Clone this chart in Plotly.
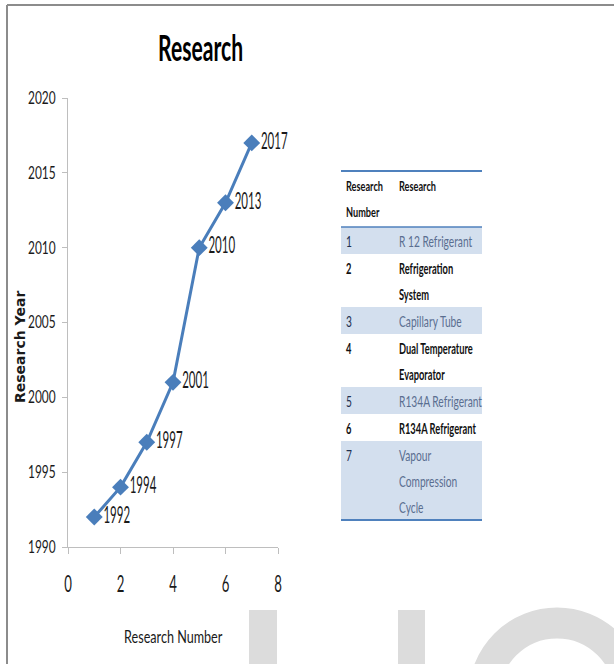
import json
import plotly.graph_objects as go

# ---- data ----
research_number = [1, 2, 3, 4, 5, 6, 7]
research_year = [1992, 1994, 1997, 2001, 2010, 2013, 2017]
year_labels = [str(y) for y in research_year]

table_numbers = ["1", "2", "3", "4", "5", "6", "7"]
table_research = [
    "R 12 Refrigerant",
    "Refrigeration<br>System",
    "Capillary Tube",
    "Dual Temperature<br>Evaporator",
    "R134A Refrigerant",
    "R134A Refrigerant",
    "Vapour<br>Compression<br>Cycle",
]
table_header = ["Research<br>Number", "Research"]

W, H = 614, 664
def px(x):
    return x / W
def py(y):
    return 1 - y / H

FONT = "Lato, Roboto, sans-serif"
BLUE = "#4A7EBB"
INK = "#1a1a1a"

fig = go.Figure()
fig.add_trace(go.Scatter(
    x=research_number, y=research_year, mode="lines+markers+text",
    text=year_labels, textposition="middle right",
    textfont=dict(family=FONT, size=23, color=INK),
    line=dict(color=BLUE, width=3),
    marker=dict(symbol="diamond", size=13, color=BLUE),
    showlegend=False, cliponaxis=False, hoverinfo="skip",
))

fig.update_layout(
    width=W, height=H,
    margin=dict(l=0, r=0, t=0, b=0),
    paper_bgcolor="white", plot_bgcolor="white",
    font=dict(family=FONT, color=INK),
    xaxis=dict(
        domain=[px(68), px(278)], range=[0, 8], tickvals=[0, 2, 4, 6, 8],
        showgrid=False, zeroline=False, showline=True, linecolor="#BEBEBE", linewidth=1,
        ticks="outside", ticklen=6, tickcolor="#BEBEBE", ticklabelstandoff=9,
        tickfont=dict(family=FONT, size=24, color=INK),
        automargin=False, fixedrange=True,
    ),
    yaxis=dict(
        domain=[py(547), py(98)], range=[1990, 2020], tickvals=[1990, 1995, 2000, 2005, 2010, 2015, 2020],
        showgrid=False, zeroline=False, showline=True, linecolor="#BEBEBE", linewidth=1,
        ticks="outside", ticklen=5, tickcolor="#BEBEBE", ticklabelstandoff=3,
        tickfont=dict(family=FONT, size=17, color=INK),
        automargin=False, fixedrange=True,
    ),
)

shapes = []
annotations = []
squeeze = []  # horizontal squeeze factor per annotation (style only)

def add_ann(factor, **kw):
    kw.setdefault("xanchor", "center")
    kw.setdefault("yanchor", "middle")
    annotations.append(kw)
    squeeze.append(factor)

# title and axis titles
add_ann(0.57, x=px(200), y=py(47), xref="paper", yref="paper", text="<b>Research</b>",
        showarrow=False, font=dict(family=FONT, size=37, color="#000000"))
add_ann(0.70, x=px(173), y=py(636), xref="paper", yref="paper", text="Research Number",
        showarrow=False, font=dict(family=FONT, size=18, color=INK))
add_ann(1.0, x=px(20), y=py(347), xref="paper", yref="paper", text="<b>Research Year</b>",
        textangle=-90, showarrow=False,
        font=dict(family="DejaVu Sans, Verdana, sans-serif", size=14, color=INK))

# page frame
shapes.append(dict(type="line", xref="paper", yref="paper", x0=px(7), x1=1, y0=py(5), y1=py(5),
                   line=dict(color="#8C8C8C", width=2)))
shapes.append(dict(type="line", xref="paper", yref="paper", x0=px(7), x1=px(7), y0=py(5), y1=0,
                   line=dict(color="#8C8C8C", width=2)))

# watermark
WM = "#DCDCDC"
shapes.append(dict(type="rect", xref="paper", yref="paper", x0=px(249), x1=px(277), y0=py(610), y1=py(670),
                   fillcolor=WM, line=dict(width=0), layer="below"))
shapes.append(dict(type="rect", xref="paper", yref="paper", x0=px(398), x1=px(425), y0=py(610), y1=py(670),
                   fillcolor=WM, line=dict(width=0), layer="below"))
shapes.append(dict(type="circle", xref="paper", yref="paper", x0=px(484), x1=px(630), y0=py(623), y1=py(769),
                   line=dict(color=WM, width=31), layer="below"))

# table
TL, TR = 341, 482
C1, C2 = 344, 397
LINE_H = 26
ROW_PAD = 1
TBLUE = "#4F81BD"
FILL = "#D3DFEE"
NAVY = "#1F3050"
GRAYBLUE = "#5A6E90"
top = 171
hdr_bottom = 227

def add_cell_text(x, ycenter, text, color, bold, size, factor):
    for k, part in enumerate(text.split("<br>")):
        t = f"<b>{part}</b>" if bold else part
        add_ann(factor, x=px(x), y=py(ycenter + k * LINE_H), xref="paper", yref="paper",
                text=t, showarrow=False, xanchor="left", yanchor="middle", align="left",
                font=dict(family=FONT, size=size, color=color))

shapes.append(dict(type="line", xref="paper", yref="paper", x0=px(TL), x1=px(TR), y0=py(top), y1=py(top),
                   line=dict(color=TBLUE, width=2)))
add_cell_text(C1, top + 15, table_header[0], "#111111", True, 13.5, 0.68)
add_cell_text(C2, top + 15, table_header[1], "#111111", True, 13.5, 0.68)
shapes.append(dict(type="line", xref="paper", yref="paper", x0=px(TL), x1=px(TR), y0=py(hdr_bottom), y1=py(hdr_bottom),
                   line=dict(color=TBLUE, width=1.5)))

y = hdr_bottom
for i, (num, res) in enumerate(zip(table_numbers, table_research)):
    n_lines = res.count("<br>") + 1
    h = n_lines * LINE_H + ROW_PAD
    if i % 2 == 0:
        shapes.append(dict(type="rect", xref="paper", yref="paper", x0=px(TL), x1=px(TR), y0=py(y), y1=py(y + h),
                           fillcolor=FILL, line=dict(width=0), layer="below"))
        add_cell_text(C1, y + 14, num, NAVY, False, 15, 0.68)
        add_cell_text(C2, y + 14, res, GRAYBLUE, False, 15, 0.68)
    else:
        add_cell_text(C1, y + 14, num, "#111111", True, 15, 0.62)
        add_cell_text(C2, y + 14, res, "#111111", True, 15, 0.62)
    y += h
shapes.append(dict(type="line", xref="paper", yref="paper", x0=px(TL), x1=px(TR), y0=py(y), y1=py(y),
                   line=dict(color=TBLUE, width=2)))

fig.update_layout(shapes=shapes, annotations=annotations)

post = """
document.body.style.margin = '0';
(function(){
  var ann = %s;
  var alignLeft = %s;
  function sq(el, f){
    if (!el || f >= 1) return 0;
    var L = el.getComputedTextLength();
    if (L > 0) { el.setAttribute('textLength', L * f); el.setAttribute('lengthAdjust', 'spacingAndGlyphs'); }
    return L * (1 - f);
  }
  function run(){
    var gd = document.getElementById('{plot_id}');
    gd.querySelectorAll('.xtick text').forEach(function(e){ sq(e, 0.55); });
    gd.querySelectorAll('.ytick text').forEach(function(e){ sq(e, 0.70); });
    gd.querySelectorAll('.textpoint text').forEach(function(e){ sq(e, 0.50); });
    gd.querySelectorAll('g.annotation').forEach(function(g){
      var i = parseInt(g.getAttribute('data-index'));
      var d = sq(g.querySelector('text'), ann[i]);
      if (d > 0) {
        g.querySelectorAll('rect').forEach(function(r){
          var w = parseFloat(r.getAttribute('width'));
          var x = parseFloat(r.getAttribute('x')) || 0;
          if (!isNaN(w)) {
            r.setAttribute('width', Math.max(1, w - d));
            if (!alignLeft[i]) r.setAttribute('x', x + d / 2);
          }
        });
      }
    });
  }
  if (document.fonts && document.fonts.ready) { document.fonts.ready.then(run); } else { run(); }
})();
""" % (json.dumps(squeeze), json.dumps([a.get("align") == "left" for a in annotations]))

fig.write_html("out.html", post_script=post, config={"displayModeBar": False})
